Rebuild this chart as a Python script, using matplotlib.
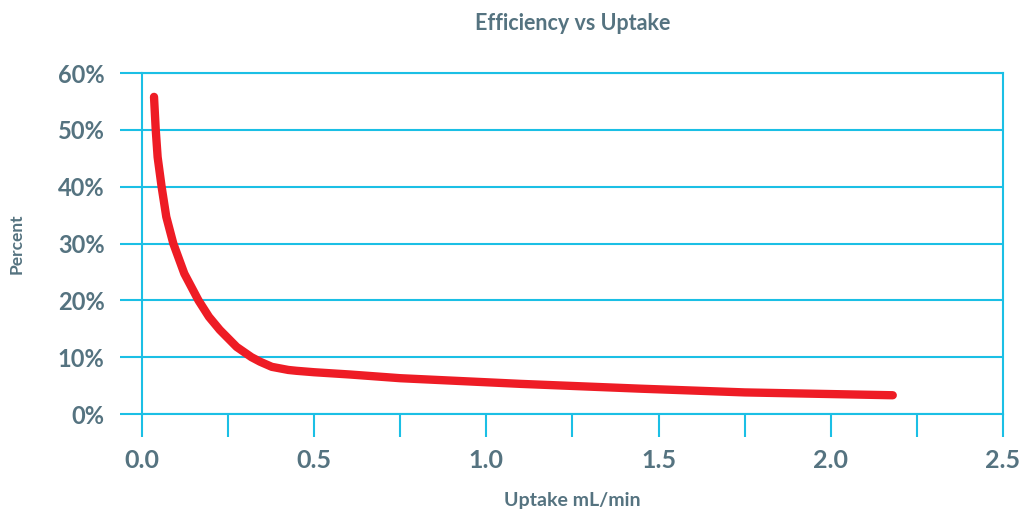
import matplotlib
matplotlib.use('Agg')
import matplotlib.pyplot as plt
import numpy as np
from matplotlib.ticker import MultipleLocator, FuncFormatter

# Values
uptake = [0.035, 0.040, 0.0455, 0.057, 0.0706, 0.091, 0.123, 0.164, 0.1945,
          0.226, 0.275, 0.318, 0.343, 0.377, 0.425, 0.449, 0.50, 0.604,
          0.75, 1.10, 1.45, 1.75, 2.18]
efficiency = [55.8, 50.0, 45.2, 40.0, 34.7, 30.0, 24.7, 20.0, 17.1,
              14.8, 11.8, 10.0, 9.2, 8.3, 7.75, 7.6, 7.35, 6.95,
              6.3, 5.3, 4.45, 3.8, 3.3]

TEXT_COLOR = '#557380'
GRID_COLOR = '#1BBFE5'
LINE_COLOR = '#EE1C25'

plt.rcParams['font.family'] = ['Lato', 'DejaVu Sans']
plt.rcParams['font.weight'] = 'bold'

fig = plt.figure(figsize=(10.25, 5.12), dpi=100)
ax = fig.add_axes([0.1385, 0.1914, 0.84, 0.666])

ax.plot(uptake, efficiency, color=LINE_COLOR, linewidth=6,
        solid_capstyle='round', solid_joinstyle='round', zorder=3)

ax.set_xlim(0, 2.5)
ax.set_ylim(0, 60)

ax.xaxis.set_major_locator(MultipleLocator(0.5))
ax.xaxis.set_minor_locator(MultipleLocator(0.25))
ax.yaxis.set_major_locator(MultipleLocator(10))
ax.xaxis.set_major_formatter(FuncFormatter(lambda v, p: f'{v:.1f}'))
ax.yaxis.set_major_formatter(FuncFormatter(lambda v, p: f'{v:.0f}%'))

ax.grid(axis='y', color=GRID_COLOR, linewidth=1.5)
ax.set_axisbelow(True)
for side in ['left', 'right', 'bottom', 'top']:
    ax.spines[side].set_color(GRID_COLOR)
    ax.spines[side].set_linewidth(1.5)

ax.tick_params(axis='x', which='both', direction='out', length=16.5,
               width=1.5, color=GRID_COLOR, pad=9,
               labelsize=18, labelcolor=TEXT_COLOR)
ax.tick_params(axis='y', which='major', direction='out', length=16,
               width=1.5, color=GRID_COLOR, pad=11,
               labelsize=17, labelcolor=TEXT_COLOR)

ax.set_title('Efficiency vs Uptake', fontsize=15.5, fontweight='bold',
             color=TEXT_COLOR, pad=31)
ax.set_xlabel('Uptake mL/min', fontsize=14, fontweight='bold',
              color=TEXT_COLOR, labelpad=14)
ax.set_ylabel('Percent', fontsize=12.5, fontweight='bold',
              color=TEXT_COLOR, labelpad=24)

plt.savefig('out.png', dpi=100)
plt.close()
